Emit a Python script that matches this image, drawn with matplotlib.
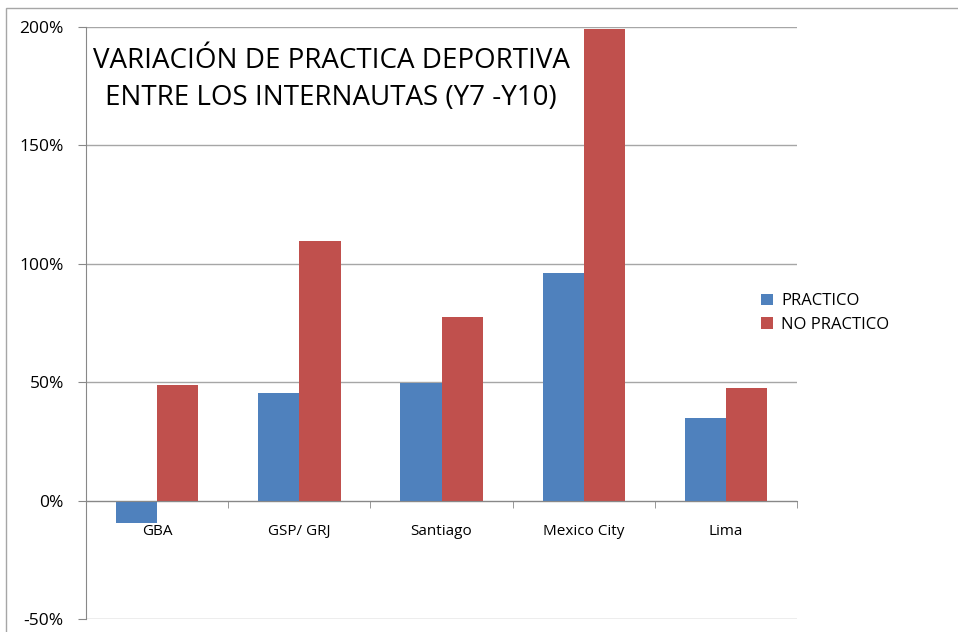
import matplotlib.pyplot as plt
import numpy as np
from matplotlib.patches import Rectangle

ciudades = ["GBA", "GSP/ GRJ", "Santiago", "Mexico City", "Lima"]
practico = [-9.5, 45.3, 49.6, 96.2, 34.7]
no_practico = [48.7, 109.7, 77.5, 199.2, 47.5]
yticks = [-50, 0, 50, 100, 150, 200]

plt.rcParams['font.family'] = ['Open Sans', 'DejaVu Sans']

fig = plt.figure(figsize=(9.58, 6.32), dpi=100)
ax = fig.add_axes([0.0898, 0.0206, 0.7422, 0.9367])

x = np.arange(len(ciudades))
w = 0.29
ax.bar(x - w / 2, practico, w, color="#4F81BD", label="PRACTICO", zorder=3)
ax.bar(x + w / 2, no_practico, w, color="#C0504D", label="NO PRACTICO", zorder=3)

ax.set_xlim(-0.5, len(ciudades) - 0.5)
ax.set_ylim(-50, 200)
ax.set_yticks(yticks)
ax.set_yticklabels([f"{v}%" for v in yticks], fontsize=12.5)
for v in yticks:
    ax.axhline(v, color="#a6a6a6", lw=1, zorder=1)

ax.spines["top"].set_visible(False)
ax.spines["right"].set_visible(False)
ax.spines["left"].set_color("#888888")
ax.spines["bottom"].set_position(("data", 0))
ax.spines["bottom"].set_color("#888888")
ax.spines["bottom"].set_zorder(4)

ax.set_xticks(x)
ax.set_xticklabels(ciudades, fontsize=11)
ax.set_xticks(np.arange(len(ciudades) + 1) - 0.5, minor=True)
ax.tick_params(axis="x", which="major", length=0, pad=17)
ax.tick_params(axis="x", which="minor", length=5, color="#888888")
ax.tick_params(axis="y", length=6, color="#888888", pad=10)

ax.text(0.345, 0.967, "VARIACIÓN DE PRACTICA DEPORTIVA\nENTRE LOS INTERNAUTAS (Y7 -Y10)",
        transform=ax.transAxes, ha="center", va="top", fontsize=20,
        linespacing=1.45)

ax.legend(loc="center left", bbox_to_anchor=(0.94, 0.517), frameon=False,
          fontsize=12, handlelength=0.7, handleheight=0.7, handletextpad=0.5,
          labelspacing=0.45, borderaxespad=0)

fig.patches.append(Rectangle((6 / 958, -0.01), 1.0, 1 - 8 / 632 + 0.01,
                             transform=fig.transFigure, fill=False,
                             edgecolor="#a6a6a6", lw=1))

fig.savefig("out.png", dpi=100)
